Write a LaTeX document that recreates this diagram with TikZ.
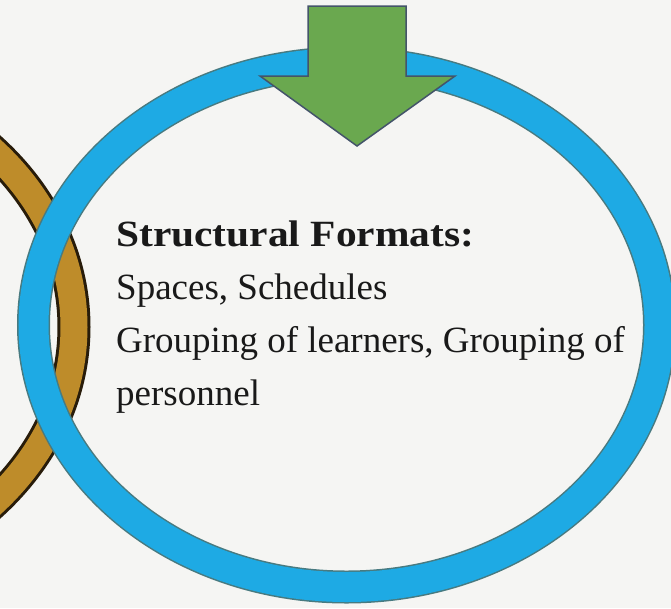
\documentclass[tikz,border=0pt]{standalone}
\usepackage{fontspec}
\setmainfont{Liberation Serif}
\newfontfamily\headfont[FakeStretch=1.12]{Liberation Serif}
\usepackage{tikz}
\usetikzlibrary{positioning}

\definecolor{paper}{RGB}{245,245,243}
\definecolor{ringblue}{RGB}{30,170,228}
\definecolor{ringblueedge}{RGB}{72,122,128}
\definecolor{ringgold}{RGB}{190,140,42}
\definecolor{ringgoldedge}{RGB}{40,28,10}
\definecolor{arrowgreen}{RGB}{106,168,79}
\definecolor{arrowedge}{RGB}{68,84,106}

\begin{document}
\begin{tikzpicture}[x=1pt, y=-1pt,
    ringedge/.style={line width=33pt},
    ringbody/.style={line width=30pt},
    downarrow/.style={fill=arrowgreen, draw=arrowedge, line width=1.5pt, line join=miter},
    label/.style={anchor=north west, align=left, inner sep=0pt, text=black!90,
      font=\fontsize{37}{53}\selectfont}]
  \useasboundingbox (0,0) rectangle (671,608);
  \fill[paper] (0,0) rectangle (671,608);
  \clip (0,0) rectangle (671,608);

  % left ring, mostly off the page
  \draw[ringedge, ringgoldedge] (-239,327) ellipse [x radius=313, y radius=262];
  \draw[ringbody, line width=27pt, ringgold] (-239,327) ellipse [x radius=313, y radius=262];

  % main ring
  \draw[ringedge, ringblueedge] (346.5,325) ellipse [x radius=313, y radius=262];
  \draw[ringbody, ringblue] (346.5,325) ellipse [x radius=313, y radius=262];

  % arrow into the ring
  \draw[downarrow] (308,6) -- (406,6) -- (406,76) -- (455,76) -- (357,146)
    -- (260,76) -- (308,76) -- cycle;

  \node[label] (formats) at (116,221)
    {{\headfont\bfseries Structural Formats:}\\
     Spaces, Schedules\\
     Grouping of learners, Grouping of\\
     personnel};
\end{tikzpicture}
\end{document}
